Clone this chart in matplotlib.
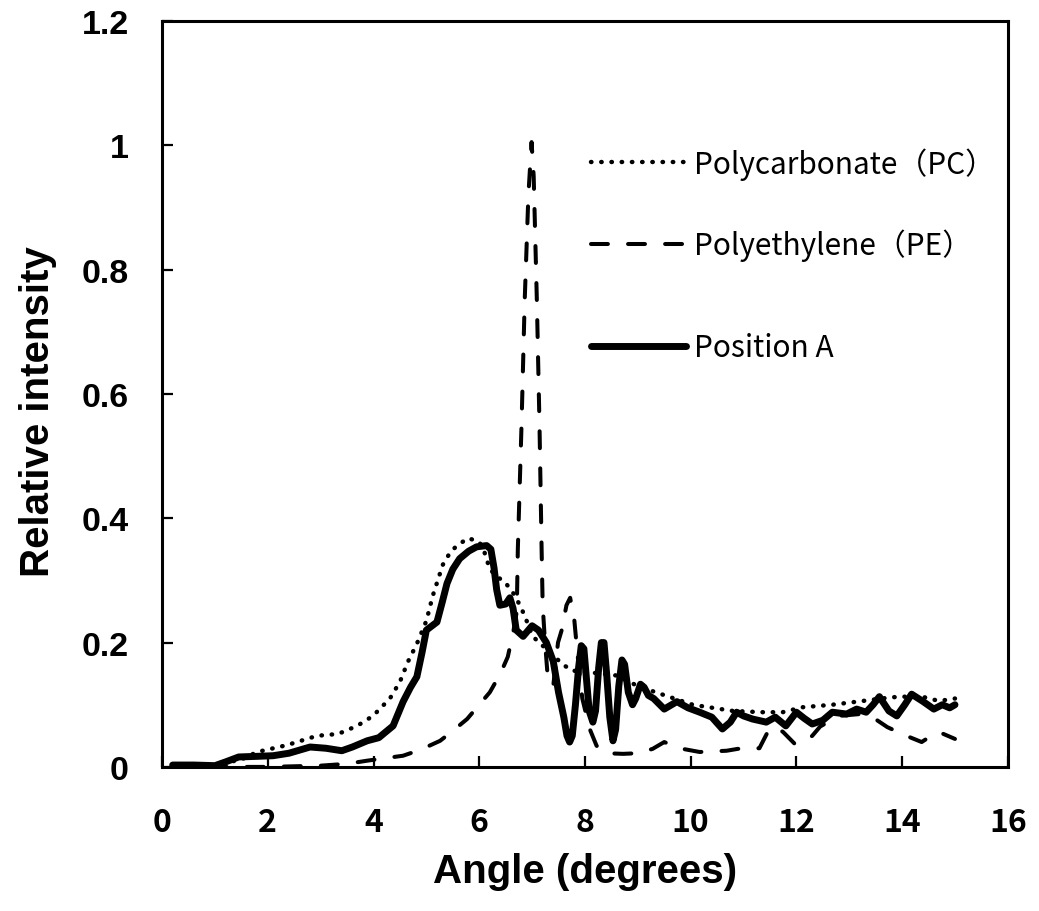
import numpy as np
import matplotlib
matplotlib.use("Agg")
import matplotlib.pyplot as plt

# Position A (solid)
pos_x = [0.2, 0.6, 1.0, 1.2, 1.45, 1.8, 2.1, 2.4, 2.8, 3.1, 3.4, 3.6, 3.88, 4.1, 4.37,
         4.56, 4.7, 4.82, 4.92, 5.0, 5.2, 5.3, 5.39, 5.5, 5.63, 5.8, 5.95, 6.14, 6.22, 6.28,
         6.33, 6.39, 6.5, 6.58, 6.64, 6.7, 6.83, 7.0, 7.12, 7.27, 7.4, 7.5, 7.6, 7.66, 7.71,
         7.76, 7.82, 7.88, 7.93, 7.98, 8.03, 8.08, 8.15, 8.2, 8.26, 8.31, 8.36, 8.41, 8.47,
         8.53, 8.58, 8.64, 8.7, 8.75, 8.82, 8.9, 8.96, 9.05, 9.12, 9.2, 9.3, 9.5, 9.74, 9.95,
         10.17, 10.4, 10.6, 10.75, 10.87, 11.0, 11.17, 11.43, 11.6, 11.8, 12.0, 12.15, 12.3,
         12.5, 12.68, 12.95, 13.14, 13.32, 13.45, 13.57, 13.75, 13.9, 14.05, 14.18, 14.4,
         14.6, 14.76, 14.9, 15.0]
pos_y = [0.003, 0.003, 0.002, 0.008, 0.016, 0.017, 0.018, 0.022, 0.032, 0.030, 0.026, 0.032,
         0.042, 0.047, 0.066, 0.105, 0.128, 0.145, 0.185, 0.220, 0.233, 0.265, 0.295, 0.318,
         0.335, 0.347, 0.354, 0.356, 0.350, 0.320, 0.285, 0.260, 0.262, 0.272, 0.255, 0.220,
         0.210, 0.227, 0.220, 0.200, 0.170, 0.120, 0.080, 0.050, 0.040, 0.050, 0.100, 0.160,
         0.195, 0.190, 0.140, 0.090, 0.072, 0.090, 0.160, 0.200, 0.200, 0.150, 0.080, 0.042,
         0.060, 0.130, 0.172, 0.165, 0.120, 0.100, 0.110, 0.133, 0.128, 0.115, 0.110, 0.093,
         0.105, 0.095, 0.088, 0.080, 0.061, 0.072, 0.088, 0.082, 0.077, 0.072, 0.080, 0.066,
         0.088, 0.078, 0.069, 0.075, 0.088, 0.085, 0.093, 0.088, 0.100, 0.113, 0.090, 0.082,
         0.100, 0.117, 0.105, 0.093, 0.100, 0.095, 0.100]

# Polycarbonate (PC) (dotted)
pc_x = [0.2, 1.0, 1.5, 1.8, 2.36, 2.93, 3.33, 3.69, 3.99, 4.31, 4.5, 4.65, 4.82, 5.0, 5.12,
        5.31, 5.45, 5.58, 5.79, 6.0, 6.1, 6.2, 6.35, 6.48, 6.64, 6.77, 6.86, 7.01, 7.2, 7.39,
        7.58, 7.75, 8.1, 8.6, 9.0, 9.41, 10.04, 10.8, 11.36, 11.74, 12.12, 12.68, 13.25,
        13.8, 14.33, 14.7, 15.0]
pc_y = [0.0, 0.003, 0.012, 0.024, 0.035, 0.050, 0.053, 0.066, 0.082, 0.110, 0.137, 0.169,
        0.198, 0.235, 0.275, 0.325, 0.345, 0.356, 0.368, 0.362, 0.345, 0.318, 0.305, 0.298,
        0.280, 0.260, 0.243, 0.210, 0.195, 0.180, 0.165, 0.155, 0.152, 0.147, 0.130, 0.118,
        0.100, 0.090, 0.088, 0.088, 0.096, 0.100, 0.106, 0.112, 0.114, 0.106, 0.110]

# Polyethylene (PE) (dashed)
pe_x = [0.2, 2.0, 3.0, 3.5, 3.88, 4.56, 4.9, 5.26, 5.5, 5.77, 6.0, 6.2, 6.4, 6.54, 6.65,
        6.71, 6.73, 6.8, 6.86, 6.93, 6.99, 7.03, 7.09, 7.14, 7.18, 7.2, 7.24, 7.3, 7.4,
        7.49, 7.56, 7.65, 7.72, 7.8, 7.86, 7.95, 8.09, 8.22, 8.4, 8.72, 9.0, 9.28, 9.5,
        9.7, 9.85, 10.17, 10.68, 10.89, 11.1, 11.3, 11.45, 11.6, 11.75, 11.97, 12.15, 12.3,
        12.45, 12.8, 13.2, 13.44, 13.72, 14.08, 14.37, 14.55, 14.7, 15.0]
pe_y = [0.0, 0.0, 0.002, 0.005, 0.010, 0.018, 0.028, 0.042, 0.058, 0.077, 0.100, 0.120,
        0.150, 0.177, 0.220, 0.250, 0.350, 0.550, 0.750, 0.920, 1.005, 0.950, 0.750, 0.550,
        0.350, 0.260, 0.206, 0.140, 0.130, 0.200, 0.220, 0.260, 0.272, 0.235, 0.180, 0.110,
        0.061, 0.034, 0.022, 0.021, 0.022, 0.029, 0.040, 0.033, 0.029, 0.024, 0.026, 0.029,
        0.030, 0.030, 0.055, 0.065, 0.056, 0.037, 0.040, 0.050, 0.065, 0.082, 0.085, 0.080,
        0.064, 0.050, 0.040, 0.050, 0.056, 0.045]

xticks = [0, 2, 4, 6, 8, 10, 12, 14, 16]
yticks = [0, 0.2, 0.4, 0.6, 0.8, 1.0, 1.2]
ytick_labels = ["0", "0.2", "0.4", "0.6", "0.8", "1", "1.2"]

fig = plt.figure(figsize=(10.39, 9.12), dpi=100)
ax = fig.add_axes([0.156, 0.158, 0.814, 0.818])

l_pc, = ax.plot(pc_x, pc_y, color="black", lw=3.2, linestyle=(0, (0.1, 2.2)),
                dash_capstyle="round", label="Polycarbonate（PC）")
l_pe, = ax.plot(pe_x, pe_y, color="black", lw=2.9, linestyle=(0, (4.2, 5.0)),
                dash_capstyle="round", label="Polyethylene（PE）")
l_a, = ax.plot(pos_x, pos_y, color="black", lw=5.0, solid_capstyle="round",
               solid_joinstyle="round", label="Position A")

ax.set_xlim(0, 16)
ax.set_ylim(0, 1.2)
ax.set_xticks(xticks)
ax.set_yticks(yticks)
ax.set_yticklabels(ytick_labels)

for s in ax.spines.values():
    s.set_linewidth(2.2)
ax.tick_params(direction="in", length=8, width=1.6)
ax.tick_params(axis="x", pad=28)
ax.tick_params(axis="y", pad=24)
for lab in ax.get_xticklabels():
    lab.set_fontfamily("Noto Sans CJK JP")
    lab.set_fontweight("bold")
    lab.set_fontsize(23)
for lab in ax.get_yticklabels():
    lab.set_fontfamily("Liberation Sans")
    lab.set_fontweight("bold")
    lab.set_fontsize(24.5)

ax.set_xlabel("Angle (degrees)", fontsize=29, fontweight="bold",
              fontfamily="Liberation Sans", labelpad=10)
ax.set_ylabel("Relative intensity", fontsize=29, fontweight="bold",
              fontfamily="Liberation Sans")
ax.yaxis.set_label_coords(-0.124, 0.478)

leg_font = {"family": "Noto Sans CJK JP", "size": 21.5}
leg1 = ax.legend(handles=[l_pc, l_pe], loc="upper left", bbox_to_anchor=(0.507, 0.831),
                 frameon=False, handlelength=3.2, handletextpad=0.27, labelspacing=1.65,
                 borderpad=0, borderaxespad=0, prop=leg_font)
ax.add_artist(leg1)
ax.legend(handles=[l_a], loc="upper left", bbox_to_anchor=(0.507, 0.583),
          frameon=False, handlelength=3.2, handletextpad=0.27, borderpad=0,
          borderaxespad=0, prop=leg_font)

plt.savefig("out.png", dpi=100)
